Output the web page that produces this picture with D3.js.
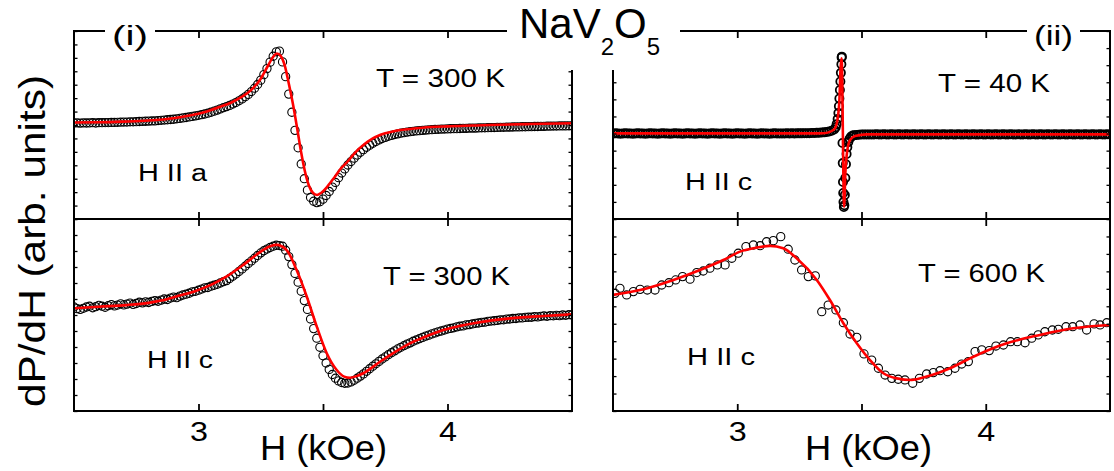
<!DOCTYPE html>
<html>
<head>
<meta charset="utf-8">
<script src="https://cdn.jsdelivr.net/npm/d3@7"></script>
<style>
  body { margin: 0; background: #fff; }
  svg { display: block; }
  text { font-family: "Liberation Sans", Arial, Helvetica, sans-serif; fill: #000; }
</style>
</head>
<body>
<svg id="chart" width="1114" height="471"></svg>
<script>
// ---- magnetic field axis (kOe) ----
const fieldDomain = [2.5, 4.5];
const fieldTicks = [3, 3.5, 4];
const fieldTickLabels = { 3: "3", 4: "4" };

// ---- (i) H || a, T = 300 K : measured derivative [H (kOe), dP/dH] ----
const sweepA300 = [[2.5,0.15],[2.5125,0.16],[2.525,0.14],[2.5375,0.16],[2.55,0.15],[2.5625,0.16],[2.575,0.17],[2.5875,0.15],[2.6,0.17],[2.6125,0.17],[2.625,0.18],[2.6375,0.18],[2.65,0.19],[2.6625,0.19],[2.675,0.2],[2.6875,0.21],[2.7,0.22],[2.7125,0.22],[2.725,0.24],[2.7375,0.24],[2.75,0.25],[2.7625,0.26],[2.775,0.27],[2.7875,0.28],[2.8,0.29],[2.8125,0.3],[2.825,0.31],[2.8375,0.33],[2.85,0.35],[2.8625,0.37],[2.875,0.39],[2.8875,0.41],[2.9,0.43],[2.9125,0.46],[2.925,0.49],[2.9375,0.53],[2.95,0.56],[2.9625,0.6],[2.975,0.64],[2.9875,0.68],[3,0.72],[3.0125,0.77],[3.025,0.82],[3.0375,0.88],[3.05,0.95],[3.0625,1.03],[3.075,1.11],[3.0875,1.2],[3.1,1.29],[3.1125,1.37],[3.125,1.46],[3.1375,1.56],[3.15,1.67],[3.1625,1.8],[3.175,1.94],[3.1875,2.1],[3.2,2.28],[3.2125,2.49],[3.225,2.74],[3.2375,3.02],[3.25,3.34],[3.2625,3.75],[3.275,4.2],[3.2875,4.68],[3.3,5.12],[3.3125,5.45],[3.325,5.5],[3.3375,4.7],[3.35,3.6],[3.3625,2.3],[3.375,0.95],[3.3875,-0.4],[3.4,-1.7],[3.4125,-2.9],[3.425,-4.0],[3.4375,-4.85],[3.45,-5.4],[3.4625,-5.68],[3.475,-5.78],[3.4875,-5.72],[3.5,-5.52],[3.5125,-5.25],[3.525,-4.95],[3.5375,-4.62],[3.55,-4.28],[3.5625,-3.92],[3.575,-3.58],[3.5875,-3.27],[3.6,-2.98],[3.6125,-2.72],[3.625,-2.47],[3.6375,-2.24],[3.65,-2.03],[3.6625,-1.84],[3.675,-1.66],[3.6875,-1.5],[3.7,-1.36],[3.7125,-1.23],[3.725,-1.11],[3.7375,-1.01],[3.75,-0.92],[3.7625,-0.84],[3.775,-0.77],[3.7875,-0.71],[3.8,-0.66],[3.8125,-0.61],[3.825,-0.57],[3.8375,-0.53],[3.85,-0.5],[3.8625,-0.47],[3.875,-0.44],[3.8875,-0.42],[3.9,-0.4],[3.9125,-0.38],[3.925,-0.36],[3.9375,-0.35],[3.95,-0.33],[3.9625,-0.32],[3.975,-0.31],[3.9875,-0.3],[4,-0.29],[4.0125,-0.28],[4.025,-0.27],[4.0375,-0.27],[4.05,-0.26],[4.0625,-0.25],[4.075,-0.25],[4.0875,-0.24],[4.1,-0.23],[4.1125,-0.23],[4.125,-0.22],[4.1375,-0.21],[4.15,-0.21],[4.1625,-0.2],[4.175,-0.19],[4.1875,-0.19],[4.2,-0.18],[4.2125,-0.17],[4.225,-0.17],[4.2375,-0.16],[4.25,-0.16],[4.2625,-0.15],[4.275,-0.14],[4.2875,-0.14],[4.3,-0.13],[4.3125,-0.13],[4.325,-0.12],[4.3375,-0.12],[4.35,-0.11],[4.3625,-0.11],[4.375,-0.1],[4.3875,-0.1],[4.4,-0.09],[4.4125,-0.09],[4.425,-0.08],[4.4375,-0.08],[4.45,-0.07],[4.4625,-0.07],[4.475,-0.07],[4.4875,-0.06],[4.5,-0.06]];
const fitA300 = [[2.5,0.19],[2.6,0.2],[2.7,0.25],[2.8,0.33],[2.9,0.5],[2.97,0.72],[3.03,0.99],[3.09,1.38],[3.13,1.66],[3.17,2.05],[3.21,2.58],[3.25,3.45],[3.28,4.45],[3.3,5.08],[3.315,5.32],[3.33,5.15],[3.347,4.39],[3.363,3.05],[3.38,1.49],[3.396,-0.22],[3.412,-2.01],[3.428,-3.5],[3.444,-4.54],[3.46,-5.06],[3.476,-5.21],[3.492,-5.06],[3.516,-4.62],[3.53,-4.28],[3.55,-3.8],[3.57,-3.28],[3.6,-2.7],[3.62,-2.25],[3.64,-1.85],[3.66,-1.52],[3.68,-1.24],[3.7,-1.0],[3.72,-0.82],[3.75,-0.62],[3.78,-0.48],[3.82,-0.36],[3.85,-0.3],[3.9,-0.2],[4.0,-0.1],[4.1,-0.04],[4.17,0.0],[4.33,0.07],[4.5,0.13]];

// ---- (i) H || c, T = 300 K ----
const sweepC300 = [[2.5,0.5],[2.5125,0.4],[2.525,0.35],[2.5375,0.42],[2.55,0.5],[2.5625,0.55],[2.575,0.45],[2.5875,0.52],[2.6,0.6],[2.6125,0.55],[2.625,0.48],[2.6375,0.58],[2.65,0.65],[2.6625,0.57],[2.675,0.62],[2.6875,0.7],[2.7,0.63],[2.7125,0.68],[2.725,0.74],[2.7375,0.66],[2.75,0.72],[2.7625,0.8],[2.775,0.76],[2.7875,0.82],[2.8,0.78],[2.8125,0.85],[2.825,0.9],[2.8375,0.86],[2.85,0.93],[2.8625,1.0],[2.875,0.97],[2.8875,1.06],[2.9,1.12],[2.9125,1.08],[2.925,1.18],[2.9375,1.25],[2.95,1.3],[2.9625,1.36],[2.975,1.45],[2.9875,1.48],[3,1.55],[3.0125,1.62],[3.025,1.7],[3.0375,1.72],[3.05,1.8],[3.0625,1.86],[3.075,1.92],[3.0875,2.0],[3.1,2.08],[3.1125,2.15],[3.125,2.28],[3.1375,2.42],[3.15,2.56],[3.1625,2.72],[3.175,2.88],[3.1875,3.05],[3.2,3.22],[3.2125,3.38],[3.225,3.55],[3.2375,3.72],[3.25,3.88],[3.2625,4.02],[3.275,4.12],[3.2875,4.22],[3.3,4.3],[3.3125,4.36],[3.325,4.34],[3.3375,4.3],[3.35,4.05],[3.3625,3.65],[3.375,3.15],[3.3875,2.6],[3.4,2.05],[3.4125,1.48],[3.425,0.9],[3.4375,0.35],[3.45,-0.25],[3.4625,-0.85],[3.475,-1.45],[3.4875,-2.02],[3.5,-2.55],[3.5125,-3.0],[3.525,-3.4],[3.5375,-3.72],[3.55,-3.95],[3.5625,-4.12],[3.575,-4.22],[3.5875,-4.27],[3.6,-4.25],[3.6125,-4.18],[3.625,-4.08],[3.6375,-3.95],[3.65,-3.82],[3.6625,-3.68],[3.675,-3.52],[3.6875,-3.36],[3.7,-3.2],[3.7125,-3.05],[3.725,-2.9],[3.7375,-2.75],[3.75,-2.62],[3.7625,-2.48],[3.775,-2.36],[3.7875,-2.24],[3.8,-2.12],[3.8125,-2.02],[3.825,-1.92],[3.8375,-1.82],[3.85,-1.74],[3.8625,-1.64],[3.875,-1.56],[3.8875,-1.48],[3.9,-1.4],[3.9125,-1.32],[3.925,-1.26],[3.9375,-1.18],[3.95,-1.12],[3.9625,-1.05],[3.975,-1.0],[3.9875,-0.94],[4,-0.88],[4.0125,-0.84],[4.025,-0.8],[4.0375,-0.74],[4.05,-0.7],[4.0625,-0.68],[4.075,-0.62],[4.0875,-0.6],[4.1,-0.56],[4.1125,-0.52],[4.125,-0.5],[4.1375,-0.46],[4.15,-0.45],[4.1625,-0.4],[4.175,-0.38],[4.1875,-0.36],[4.2,-0.34],[4.2125,-0.3],[4.225,-0.3],[4.2375,-0.26],[4.25,-0.25],[4.2625,-0.22],[4.275,-0.22],[4.2875,-0.18],[4.3,-0.18],[4.3125,-0.15],[4.325,-0.14],[4.3375,-0.14],[4.35,-0.1],[4.3625,-0.12],[4.375,-0.08],[4.3875,-0.06],[4.4,-0.08],[4.4125,-0.04],[4.425,-0.05],[4.4375,-0.02],[4.45,-0.04],[4.4625,0.0],[4.475,-0.02],[4.4875,0.02],[4.5,0.0]];
const fitC300 = [[2.5,0.42],[2.6,0.52],[2.71,0.62],[2.8,0.76],[2.85,0.9],[2.92,1.2],[2.98,1.46],[3.05,1.88],[3.11,2.38],[3.18,3.13],[3.25,3.96],[3.29,4.31],[3.314,4.38],[3.354,4.06],[3.394,2.81],[3.435,1.14],[3.475,-0.73],[3.515,-2.39],[3.555,-3.44],[3.585,-3.85],[3.608,-3.92],[3.635,-3.82],[3.662,-3.64],[3.729,-2.92],[3.79,-2.3],[3.849,-1.77],[3.92,-1.3],[3.983,-0.94],[4.05,-0.68],[4.117,-0.48],[4.251,-0.21],[4.385,-0.06],[4.5,0.04]];

// ---- (ii) H || c, T = 40 K ----
const sweepC40 = [[2.5,0.0],[2.51,0.01],[2.52,0.0],[2.53,-0.01],[2.54,0.0],[2.55,0.01],[2.56,0.0],[2.57,0.0],[2.58,-0.01],[2.59,0.0],[2.6,0.01],[2.61,0.0],[2.62,0.0],[2.63,-0.01],[2.64,0.0],[2.65,0.01],[2.66,0.0],[2.67,0.0],[2.68,-0.01],[2.69,0.0],[2.7,0.01],[2.71,0.0],[2.72,0.0],[2.73,-0.01],[2.74,0.0],[2.75,0.01],[2.76,0.0],[2.77,0.0],[2.78,-0.01],[2.79,0.0],[2.8,0.01],[2.81,0.0],[2.82,0.0],[2.83,-0.01],[2.84,0.0],[2.85,0.01],[2.86,0.0],[2.87,0.0],[2.88,-0.01],[2.89,0.0],[2.9,0.01],[2.91,0.0],[2.92,0.0],[2.93,-0.01],[2.94,0.0],[2.95,0.01],[2.96,0.0],[2.97,0.0],[2.98,-0.01],[2.99,0.0],[3.0,0.01],[3.01,0.0],[3.02,0.0],[3.03,-0.01],[3.04,0.0],[3.05,0.01],[3.06,0.0],[3.07,0.0],[3.08,-0.01],[3.09,0.0],[3.1,0.01],[3.11,0.0],[3.12,0.0],[3.13,-0.01],[3.14,0.0],[3.15,0.01],[3.16,0.0],[3.17,0.0],[3.18,0.0],[3.19,0.0],[3.2,0.01],[3.21,0.0],[3.22,0.01],[3.23,0.0],[3.24,0.01],[3.25,0.01],[3.26,0.01],[3.27,0.02],[3.28,0.02],[3.29,0.02],[3.3,0.03],[3.31,0.03],[3.32,0.04],[3.33,0.05],[3.34,0.06],[3.35,0.07],[3.36,0.09],[3.37,0.12],[3.38,0.16],[3.39,0.24],[3.396,0.35],[3.4,0.55],[3.404,0.85],[3.407,1.2],[3.409,1.6],[3.411,2.05],[3.413,2.55],[3.415,3.05],[3.417,3.55],[3.419,4.05],[3.42,4.45],[3.421,4.5],[3.4235,-0.55],[3.4245,-1.73],[3.4255,-2.84],[3.4265,-3.48],[3.4275,-4.01],[3.429,-4.3],[3.431,-4.2],[3.433,-3.6],[3.435,-2.6],[3.4375,-1.8],[3.44,-1.2],[3.443,-0.8],[3.447,-0.5],[3.452,-0.3],[3.458,-0.18],[3.465,-0.12],[3.47,-0.1],[3.48,-0.08],[3.49,-0.07],[3.5,-0.06],[3.51,-0.06],[3.52,-0.05],[3.53,-0.05],[3.54,-0.05],[3.55,-0.05],[3.56,-0.04],[3.57,-0.05],[3.58,-0.05],[3.59,-0.04],[3.6,-0.05],[3.61,-0.05],[3.62,-0.04],[3.63,-0.05],[3.64,-0.05],[3.65,-0.04],[3.66,-0.05],[3.67,-0.05],[3.68,-0.04],[3.69,-0.05],[3.7,-0.05],[3.71,-0.04],[3.72,-0.05],[3.73,-0.05],[3.74,-0.04],[3.75,-0.05],[3.76,-0.05],[3.77,-0.04],[3.78,-0.05],[3.79,-0.05],[3.8,-0.04],[3.81,-0.05],[3.82,-0.05],[3.83,-0.04],[3.84,-0.05],[3.85,-0.05],[3.86,-0.04],[3.87,-0.05],[3.88,-0.05],[3.89,-0.04],[3.9,-0.05],[3.91,-0.05],[3.92,-0.04],[3.93,-0.05],[3.94,-0.05],[3.95,-0.04],[3.96,-0.05],[3.97,-0.05],[3.98,-0.04],[3.99,-0.05],[4.0,-0.05],[4.01,-0.04],[4.02,-0.05],[4.03,-0.05],[4.04,-0.04],[4.05,-0.05],[4.06,-0.05],[4.07,-0.04],[4.08,-0.05],[4.09,-0.05],[4.1,-0.04],[4.11,-0.05],[4.12,-0.05],[4.13,-0.04],[4.14,-0.05],[4.15,-0.05],[4.16,-0.04],[4.17,-0.05],[4.18,-0.05],[4.19,-0.04],[4.2,-0.05],[4.21,-0.05],[4.22,-0.04],[4.23,-0.05],[4.24,-0.05],[4.25,-0.04],[4.26,-0.05],[4.27,-0.05],[4.28,-0.04],[4.29,-0.05],[4.3,-0.05],[4.31,-0.04],[4.32,-0.05],[4.33,-0.05],[4.34,-0.04],[4.35,-0.05],[4.36,-0.05],[4.37,-0.04],[4.38,-0.05],[4.39,-0.05],[4.4,-0.04],[4.41,-0.05],[4.42,-0.05],[4.43,-0.04],[4.44,-0.05],[4.45,-0.05],[4.46,-0.04],[4.47,-0.05],[4.48,-0.05],[4.49,-0.04],[4.5,-0.05]];
const fitC40 = [[2.5,0.01],[3.3,0.01],[3.346,0.02],[3.373,0.1],[3.393,0.3],[3.403,0.79],[3.411,1.96],[3.416,3.91],[3.42,4.4],[3.43,-4.28],[3.435,-2.33],[3.443,-0.97],[3.454,-0.38],[3.474,-0.15],[3.521,-0.05],[4.5,-0.05]];

// ---- (ii) H || c, T = 600 K ----
const sweepC600 = [[2.508,0.74],[2.528,1.03],[2.555,0.65],[2.582,0.84],[2.609,0.97],[2.638,0.93],[2.669,0.93],[2.696,1.22],[2.725,1.35],[2.752,1.51],[2.78,1.7],[2.81,1.55],[2.837,1.93],[2.863,2.02],[2.89,2.18],[2.92,2.37],[2.951,2.37],[2.978,2.75],[3.004,3.04],[3.035,3.42],[3.065,3.51],[3.092,3.47],[3.118,3.7],[3.145,3.76],[3.175,3.99],[3.205,3.27],[3.232,2.65],[3.259,2.08],[3.286,1.7],[3.314,1.74],[3.34,-0.31],[3.366,0.07],[3.397,-0.21],[3.427,-0.94],[3.454,-1.59],[3.481,-1.78],[3.51,-2.73],[3.541,-3.08],[3.568,-3.55],[3.595,-3.94],[3.622,-4.13],[3.648,-4.18],[3.675,-4.22],[3.706,-4.41],[3.733,-4.13],[3.762,-3.88],[3.789,-3.8],[3.816,-3.69],[3.847,-3.75],[3.876,-3.55],[3.903,-3.31],[3.93,-3.17],[3.957,-2.6],[3.984,-2.5],[4.014,-2.54],[4.041,-2.28],[4.071,-2.22],[4.1,-2.03],[4.127,-2.03],[4.158,-2.09],[4.185,-1.83],[4.211,-1.64],[4.238,-1.46],[4.268,-1.36],[4.292,-1.32],[4.323,-1.17],[4.35,-1.17],[4.379,-1.07],[4.406,-1.36],[4.436,-1.01],[4.46,-1.07],[4.487,-0.94]];
const fitC600 = [[2.5,0.65],[2.609,0.93],[2.743,1.51],[2.85,2.08],[2.944,2.65],[3.011,3.13],[3.078,3.36],[3.132,3.46],[3.185,3.32],[3.239,2.75],[3.32,1.51],[3.373,0.36],[3.427,-0.97],[3.481,-2.12],[3.534,-3.08],[3.588,-3.84],[3.642,-4.13],[3.702,-4.22],[3.762,-4.03],[3.856,-3.55],[3.95,-2.89],[4.084,-2.12],[4.218,-1.64],[4.352,-1.26],[4.5,-1.07]];

// ---- panel layout ----
const colX = { left: [74, 572], right: [613, 1110] };
const rowY = { top: [31, 219], bottom: [219, 411] };

const panels = [
  { col: "left",  row: "top",    yDomain: [-7, 7], sweep: sweepA300, fit: fitA300, markStroke: 1.1,
    temp: { t: "T = 300 K", x: 376, y: 87, w: 129 }, orient: { t: "H II a", x: 138, y: 181, w: 69 } },
  { col: "left",  row: "bottom", yDomain: [-6, 6], sweep: sweepC300, fit: fitC300, markStroke: 1.1,
    temp: { t: "T = 300 K", x: 383, y: 285, w: 127 }, orient: { t: "H II c", x: 147, y: 368, w: 66 } },
  { col: "right", row: "top",    yDomain: [-5, 6], sweep: sweepC40, fit: fitC40, markStroke: 1.8,
    temp: { t: "T = 40 K", x: 938, y: 92, w: 112 }, orient: { t: "H II c", x: 685, y: 190, w: 67 } },
  { col: "right", row: "bottom", yDomain: [-6, 5], sweep: sweepC600, fit: fitC600, markStroke: 1.1,
    temp: { t: "T = 600 K", x: 918, y: 282, w: 127 }, orient: { t: "H II c", x: 687, y: 365, w: 68 } }
];

const svg = d3.select("#chart");
const font = '"Liberation Sans", Arial, Helvetica, sans-serif';

// text fitted to a set width (the lettering is drawn slightly wide)
function label(parent, t, x, y, size, w) {
  const el = parent.append("text").attr("x", x).attr("y", y).attr("font-size", size).text(t);
  if (w) el.attr("textLength", w).attr("lengthAdjust", "spacingAndGlyphs");
  return el;
}

panels.forEach((p, i) => {
  const [x0, x1] = colX[p.col];
  const [y0, y1] = rowY[p.row];
  const x = d3.scaleLinear().domain(fieldDomain).range([x0, x1]);
  const y = d3.scaleLinear().domain(p.yDomain).range([y1, y0]);
  const g = svg.append("g");

  g.append("clipPath").attr("id", "clip" + i)
    .append("rect").attr("x", x0).attr("y", y0).attr("width", x1 - x0).attr("height", y1 - y0);

  const plot = g.append("g").attr("clip-path", `url(#clip${i})`);

  // measured points: open circles
  plot.append("g").selectAll("circle").data(p.sweep).join("circle")
    .attr("cx", d => x(d[0])).attr("cy", d => y(d[1])).attr("r", 4.1)
    .attr("fill", "none").attr("stroke", "#000").attr("stroke-width", p.markStroke);

  // fitted line
  plot.append("path").datum(p.fit)
    .attr("d", d3.line().x(d => x(d[0])).y(d => y(d[1])).curve(d3.curveMonotoneX))
    .attr("fill", "none").attr("stroke", "#ff0000").attr("stroke-width", 2.6);

  // inward minor ticks on both vertical edges
  const yTicks = y.ticks(p.yDomain[1] - p.yDomain[0]);
  const yl = g.append("g").attr("transform", `translate(${x0},0)`)
    .call(d3.axisLeft(y).tickValues(yTicks).tickSize(-3.5).tickFormat(""));
  const yr = g.append("g").attr("transform", `translate(${x1},0)`)
    .call(d3.axisRight(y).tickValues(yTicks).tickSize(-3.5).tickFormat(""));
  [yl, yr].forEach(a => { a.select(".domain").remove(); a.selectAll("line").attr("stroke-width", 1.3); });

  // inward field ticks on both horizontal edges
  const xt = g.append("g").attr("transform", `translate(0,${y0})`)
    .call(d3.axisTop(x).tickValues(fieldTicks).tickSize(-7).tickFormat(""));
  const xb = g.append("g").attr("transform", `translate(0,${y1})`)
    .call(d3.axisBottom(x).tickValues(fieldTicks)
      .tickSize(-7).tickPadding(11)
      .tickFormat(d => p.row === "bottom" ? (fieldTickLabels[d] || "") : ""));
  [xt, xb].forEach(a => { a.select(".domain").remove(); a.selectAll("line").attr("stroke-width", 1.8); });
  xb.selectAll("text").attr("font-size", 27).attr("font-family", font).attr("fill", "#000")
    .attr("textLength", 18).attr("lengthAdjust", "spacingAndGlyphs");

  // frame
  g.append("rect").attr("x", x0).attr("y", y0).attr("width", x1 - x0).attr("height", y1 - y0)
    .attr("fill", "none").attr("stroke", "#000").attr("stroke-width", 2);

  label(g, p.temp.t, p.temp.x, p.temp.y, 26, p.temp.w);
  label(g, p.orient.t, p.orient.x, p.orient.y, 23, p.orient.w);

  if (p.row === "bottom") {
    label(svg, "H (kOe)", p.col === "right" ? 805 : 260, 460, 35, 127);
  }
});

// panel tags and compound title sit on white patches over the top frame
const tags = [{ t: "(i)", x: 112, w: 36 }, { t: "(ii)", x: 1034, w: 39 }];
tags.forEach(d => {
  svg.append("rect").attr("x", d.x - 7).attr("y", 14).attr("width", d.w + 14).attr("height", 36).attr("fill", "#fff");
  label(svg, d.t, d.x, 45, 28, d.w);
});

svg.append("rect").attr("x", 507).attr("y", 0).attr("width", 173).attr("height", 70).attr("fill", "#fff");
const title = svg.append("text").attr("x", 519).attr("y", 38).attr("font-size", 42);
title.append("tspan").text("NaV");
title.append("tspan").attr("font-size", 24).attr("dy", 17).text("2");
title.append("tspan").attr("dy", -17).text("O");
title.append("tspan").attr("font-size", 24).attr("dy", 17).text("5");

svg.append("text").attr("transform", "translate(45,241) rotate(-90)")
  .attr("text-anchor", "middle").attr("font-size", 37)
  .attr("textLength", 332).attr("lengthAdjust", "spacingAndGlyphs")
  .text("dP/dH (arb. units)");
</script>
</body>
</html>
